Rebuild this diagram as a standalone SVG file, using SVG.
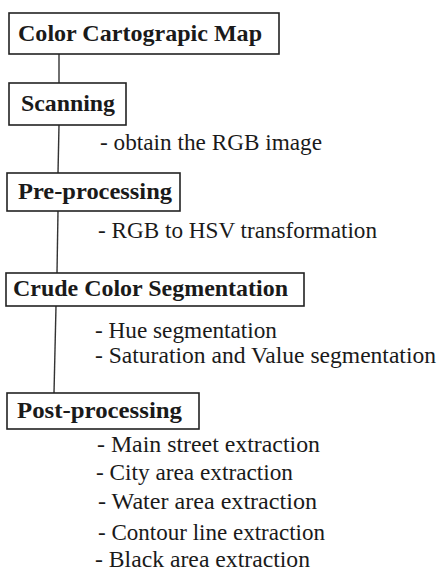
<svg xmlns="http://www.w3.org/2000/svg" width="437" height="573" viewBox="0 0 437 573">
  <style>
    .box { fill: #fff; stroke: #222; stroke-width: 1.6; }
    .title { font-family: "Liberation Serif", "DejaVu Serif", serif; font-weight: bold; font-size: 24px; fill: #1a1a1a; }
    .item { font-family: "Liberation Serif", "DejaVu Serif", serif; font-size: 23px; fill: #1a1a1a; }
    .link { stroke: #333; stroke-width: 1.4; fill: none; }
  </style>
  <rect width="437" height="573" fill="#fff"/>

  <!-- vertical spine linking the stages -->
  <g id="connectors">
    <line class="link" x1="59" y1="54" x2="59" y2="83"/>
    <line class="link" x1="59" y1="125" x2="58" y2="173"/>
    <line class="link" x1="58" y1="211" x2="57" y2="273"/>
    <line class="link" x1="56" y1="306" x2="54" y2="393"/>
  </g>

  <g id="map">
    <rect class="box" x="9" y="13" width="270" height="41"/>
    <text class="title" x="18" y="41" textLength="244" lengthAdjust="spacingAndGlyphs">Color Cartograpic Map</text>
  </g>

  <g id="scanning">
    <rect class="box" x="9" y="83" width="117" height="42"/>
    <text class="title" x="21" y="111" textLength="94" lengthAdjust="spacingAndGlyphs">Scanning</text>
    <text class="item" x="100" y="150" textLength="222" lengthAdjust="spacingAndGlyphs">- obtain the RGB image</text>
  </g>

  <g id="preprocessing">
    <rect class="box" x="7" y="173" width="173" height="38"/>
    <text class="title" x="18" y="199" textLength="154" lengthAdjust="spacingAndGlyphs">Pre-processing</text>
    <text class="item" x="98" y="238" textLength="279" lengthAdjust="spacingAndGlyphs">- RGB to HSV transformation</text>
  </g>

  <g id="segmentation">
    <rect class="box" x="6" y="273" width="298" height="33"/>
    <text class="title" x="13" y="296" textLength="275" lengthAdjust="spacingAndGlyphs">Crude Color Segmentation</text>
    <text class="item" x="95" y="338" textLength="182" lengthAdjust="spacingAndGlyphs">- Hue segmentation</text>
    <text class="item" x="95" y="363" textLength="341" lengthAdjust="spacingAndGlyphs">- Saturation and Value segmentation</text>
  </g>

  <g id="postprocessing">
    <rect class="box" x="7" y="393" width="192" height="36"/>
    <text class="title" x="17" y="418" textLength="165" lengthAdjust="spacingAndGlyphs">Post-processing</text>
    <text class="item" x="97" y="452" textLength="223" lengthAdjust="spacingAndGlyphs">- Main street  extraction</text>
    <text class="item" x="96" y="480" textLength="197" lengthAdjust="spacingAndGlyphs">- City area extraction</text>
    <text class="item" x="98" y="509" textLength="219" lengthAdjust="spacingAndGlyphs">- Water area extraction</text>
    <text class="item" x="98" y="540" textLength="227" lengthAdjust="spacingAndGlyphs">- Contour line extraction</text>
    <text class="item" x="95" y="567" textLength="215" lengthAdjust="spacingAndGlyphs">- Black area extraction</text>
  </g>
</svg>
